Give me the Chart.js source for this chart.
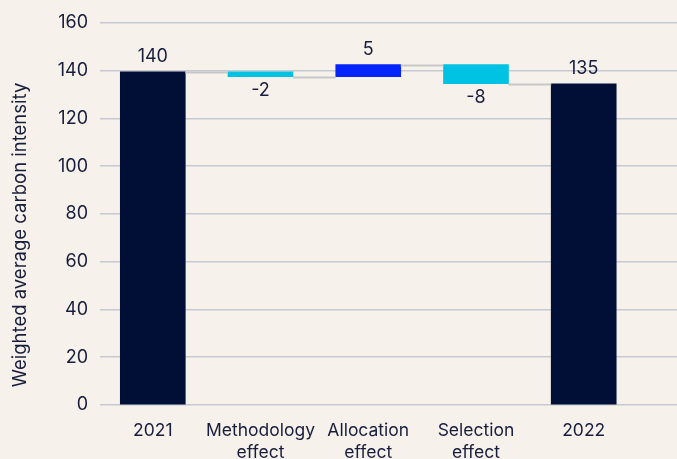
<!DOCTYPE html>
<html>
<head>
<meta charset="utf-8">
<script src="https://cdn.jsdelivr.net/npm/chart.js@4/dist/chart.umd.min.js"></script>
<style>
  html, body { margin: 0; padding: 0; background: #f6f2eb; }
  #wrap { width: 677px; height: 459px; }
</style>
</head>
<body>
<div id="wrap"><canvas id="wf" width="677" height="459"></canvas></div>
<script>
// waterfall data
var categories = [['2021'], ['Methodology', 'effect'], ['Allocation', 'effect'], ['Selection', 'effect'], ['2022']];
var steps = [139.5, -2, 5, -8, 134.5];
var isTotal = [true, false, false, false, true];
var barColors = ['#010e35', '#00c2e2', '#0424fb', '#00c2e2', '#010e35'];
var yTicks = [0, 20, 40, 60, 80, 100, 120, 140, 160];
var yTitle = 'Weighted average carbon intensity';

var textColor = '#181d3c';
var fontFamily = 'Inter, "Noto Sans", sans-serif';

// build floating ranges
var ranges = [];
var running = 0;
for (var i = 0; i < steps.length; i++) {
  if (isTotal[i]) {
    ranges.push([0, steps[i]]);
    running = steps[i];
  } else {
    ranges.push([running, running + steps[i]]);
    running += steps[i];
  }
}
var levels = ranges.map(function(r) { return r[1]; });

var bgPlugin = {
  id: 'bg',
  beforeDraw: function(chart) {
    var c = chart.ctx;
    c.save();
    c.fillStyle = '#f6f2eb';
    c.fillRect(0, 0, chart.width, chart.height);
    // y axis title, sits a bit lower than the plot centre
    c.translate(20, 235);
    c.rotate(-Math.PI / 2);
    c.fillStyle = textColor;
    c.font = '18.5px ' + fontFamily;
    c.textAlign = 'center';
    c.textBaseline = 'middle';
    c.fillText(yTitle, 0, 0);
    c.restore();
  }
};

var wfPlugin = {
  id: 'wf',
  afterDatasetsDraw: function(chart) {
    var c = chart.ctx;
    var meta = chart.getDatasetMeta(0);
    var ys = chart.scales.y;
    c.save();
    // connectors
    c.strokeStyle = '#c6c7c9';
    c.lineWidth = 2;
    for (var i = 0; i < meta.data.length - 1; i++) {
      var a = meta.data[i], b = meta.data[i + 1];
      var y = Math.round(ys.getPixelForValue(levels[i])) + 0.5;
      c.beginPath();
      c.moveTo(a.x + a.width / 2, y);
      c.lineTo(b.x - b.width / 2, y);
      c.stroke();
    }
    // value labels
    c.fillStyle = textColor;
    c.font = '18px ' + fontFamily;
    c.textAlign = 'center';
    for (var j = 0; j < meta.data.length; j++) {
      var el = meta.data[j];
      var v = steps[j];
      var top = Math.min(el.y, el.base), bot = Math.max(el.y, el.base);
      if (v >= 0) {
        c.textBaseline = 'bottom';
        c.fillText(String(Math.round(v)), el.x, top - 6);
      } else {
        c.textBaseline = 'top';
        c.fillText(String(Math.round(v)), el.x, bot + 5);
      }
    }
    c.restore();
  }
};

var ctx = document.getElementById('wf').getContext('2d');
var chart = new Chart(ctx, {
  type: 'bar',
  data: {
    datasets: [{
      data: ranges.map(function(r, i) { return { x: i, y: r }; }),
      backgroundColor: barColors,
      borderWidth: 0,
      barThickness: 65
    }]
  },
  options: {
    responsive: false,
    animation: false,
    layout: { padding: { top: 14, right: 0, bottom: 0, left: 0 } },
    plugins: { legend: { display: false }, tooltip: { enabled: false } },
    scales: {
      x: {
        type: 'linear',
        offset: false,
        min: -0.49,
        max: 4.866,
        grid: { display: false },
        border: { display: false },
        afterBuildTicks: function(scale) {
          scale.ticks = categories.map(function(_, i) { return { value: i }; });
        },
        afterFit: function(scale) { scale.height = 54; },
        ticks: {
          autoSkip: false,
          maxRotation: 0,
          padding: 6,
          color: textColor,
          font: { family: fontFamily, size: 17.5, lineHeight: 1.3 },
          callback: function(v) { return categories[v] || ''; }
        }
      },
      y: {
        min: 0,
        max: 160,
        afterBuildTicks: function(scale) {
          scale.ticks = yTicks.map(function(v) { return { value: v }; });
        },
        afterFit: function(scale) { scale.width = 100; },
        grid: { color: '#c5cad2', lineWidth: 1.5, drawTicks: false },
        border: { display: false },
        ticks: {
          padding: 12,
          color: textColor,
          font: { family: fontFamily, size: 18 }
        }
      }
    }
  },
  plugins: [bgPlugin, wfPlugin]
});
</script>
</body>
</html>
